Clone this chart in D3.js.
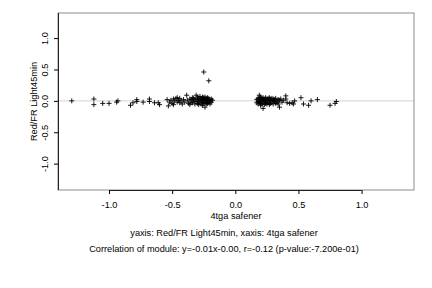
<!DOCTYPE html>
<html><head><meta charset="utf-8">
<script src="https://cdn.jsdelivr.net/npm/d3@7"></script>
<style>body{margin:0;background:#fff}svg{display:block}text{font-family:"Liberation Sans",Arial,sans-serif;fill:#000}</style>
</head><body><svg id="c" width="432" height="288"></svg>
<script>
const xTicks=[-1.0,-0.5,0.0,0.5,1.0];
const yTicks=[-1.0,-0.5,0.0,0.5,1.0];
const tickLabels=["-1.0","-0.5","0.0","0.5","1.0"];
const xTitle="4tga safener";
const yTitle="Red/FR Light45min";
const subtitle="yaxis: Red/FR Light45min, xaxis: 4tga safener";
const corrText="Correlation of module: y=-0.01x-0.00, r=-0.12 (p-value:-7.200e-01)";
const xLeft=[-1.295,-1.12,-1.12,-1.05,-1.0,-0.94,-0.93,-0.83,-0.81,-0.78,-0.78,-0.73,-0.68,-0.68,-0.64,-0.61,-0.60,-0.54,-0.53,
-0.52,-0.51,-0.50,-0.49,-0.49,-0.48,-0.47,-0.46,-0.46,-0.45,-0.44,-0.44,-0.43,-0.42,-0.41,-0.40,-0.385,-0.38,-0.37,-0.36,-0.36,
-0.35,-0.35,-0.34,-0.34,-0.33,-0.33,-0.32,-0.32,-0.31,-0.31,-0.30,-0.30,-0.30,-0.29,-0.29,-0.29,-0.28,-0.28,-0.28,-0.27,-0.27,
-0.27,-0.26,-0.26,-0.26,-0.26,-0.25,-0.25,-0.25,-0.25,-0.24,-0.24,-0.24,-0.24,-0.23,-0.23,-0.23,-0.23,-0.22,-0.22,-0.22,-0.21,
-0.21,-0.21,-0.20,-0.20,-0.20,-0.19,-0.19,-0.18,-0.25,-0.21];
const yLeft=[0.0,0.03,-0.06,-0.04,-0.04,-0.02,0.0,-0.07,-0.03,0.02,-0.01,-0.02,0.03,-0.01,-0.03,-0.03,-0.06,0.02,-0.08,
-0.02,0.01,-0.04,0.03,-0.06,0.0,0.04,-0.02,0.05,0.01,-0.03,0.04,0.0,-0.05,0.02,-0.02,0.09,0.01,-0.04,0.03,-0.06,
0.02,-0.02,0.05,-0.03,0.0,0.04,-0.05,0.02,0.09,-0.01,0.03,-0.04,0.06,0.0,-0.06,0.04,0.02,-0.03,0.07,0.0,-0.05,
0.04,0.03,-0.02,0.06,-0.07,0.0,0.05,-0.04,0.02,-0.1,0.03,-0.02,0.06,0.01,-0.05,0.04,-0.02,0.02,-0.04,0.05,0.0,
-0.03,0.04,0.02,-0.05,0.0,0.03,-0.02,0.01,0.46,0.32];
const xRight=[0.17,0.17,0.18,0.18,0.18,0.19,0.19,0.19,0.19,0.20,0.20,0.20,0.20,0.21,0.21,0.21,0.21,0.22,0.22,0.22,0.22,0.23,0.23,
0.23,0.24,0.24,0.24,0.24,0.25,0.25,0.25,0.26,0.26,0.26,0.27,0.27,0.27,0.28,0.28,0.28,0.29,0.29,0.30,0.30,0.30,0.31,0.31,0.32,
0.32,0.33,0.33,0.34,0.34,0.35,0.35,0.36,0.37,0.38,0.40,0.40,0.41,0.43,0.45,0.46,0.47,0.52,0.54,0.58,0.60,0.65,0.75,0.79,0.80];
const yRight=[0.02,-0.03,0.04,-0.01,-0.05,0.09,0.01,-0.03,0.05,0.02,-0.04,0.06,-0.07,0.0,0.04,-0.05,0.03,-0.12,0.02,-0.02,0.05,0.0,-0.06,
0.03,0.01,-0.04,0.05,-0.02,0.03,-0.05,0.0,0.04,-0.03,0.01,-0.06,0.02,0.05,0.0,-0.04,0.03,-0.02,0.04,0.01,-0.05,0.03,-0.01,0.02,-0.04,
0.04,0.0,-0.03,0.02,-0.05,0.01,-0.1,0.03,-0.02,0.01,0.08,0.03,-0.03,-0.04,-0.03,-0.05,0.0,0.05,-0.05,-0.07,0.0,0.02,-0.07,-0.04,-0.01];
const pts=xLeft.map((x,i)=>({x,y:yLeft[i]})).concat(xRight.map((x,i)=>({x,y:yRight[i]})));

const FS="9.2px";
const L=58,R=414,T=13,B=190;
const x=d3.scaleLinear().domain([-1.404,1.415]).range([L,R]);
const y=d3.scaleLinear().domain([-1.42,1.40]).range([B,T]);
const svg=d3.select("#c");
svg.append("line").attr("x1",L).attr("x2",R).attr("y1",y(0)).attr("y2",y(0)).attr("stroke","#d3d3d3").attr("stroke-width",1);
svg.append("rect").attr("x",L).attr("y",T).attr("width",R-L).attr("height",B-T).attr("fill","none").attr("stroke","#8c8c8c").attr("stroke-width",1);
const g=svg.append("g");
pts.forEach(p=>{
  const cx=x(p.x),cy=y(p.y);
  g.append("path").attr("d",`M${cx-2.5},${cy}H${cx+2.5}M${cx},${cy-2.5}V${cy+2.5}`).attr("stroke","#000").attr("stroke-width",0.9).attr("fill","none");
});
const xa=svg.append("g").attr("transform",`translate(0,${B})`).call(d3.axisBottom(x).tickValues(xTicks).tickSize(4).tickPadding(7).tickFormat((d,i)=>tickLabels[i]));
xa.select(".domain").attr("d",`M${x(-1)},0.5H${x(1)}`).attr("stroke","#222");
xa.selectAll("text").attr("font-size",FS).attr("font-family","Liberation Sans, Arial, sans-serif");
const ya=svg.append("g").attr("transform",`translate(${L},0)`).call(d3.axisLeft(y).tickValues(yTicks).tickSize(4).tickFormat((d,i)=>tickLabels[i]));
ya.select(".domain").attr("d",`M0.5,${T}V${B}`).attr("stroke","#222");
ya.selectAll("text").attr("font-size",FS).attr("font-family","Liberation Sans, Arial, sans-serif")
  .attr("x",0).attr("y",0).attr("dy",null).attr("text-anchor","middle")
  .attr("transform","translate(-10,0) rotate(-90)");
svg.append("text").attr("transform",`translate(37,${(T+B)/2}) rotate(-90)`).attr("text-anchor","middle").attr("font-size",FS).text(yTitle);
svg.append("text").attr("x",(L+R)/2).attr("y",219).attr("text-anchor","middle").attr("font-size",FS).text(xTitle);
svg.append("text").attr("x",224).attr("y",235.5).attr("text-anchor","middle").attr("font-size",FS).text(subtitle);
svg.append("text").attr("x",224).attr("y",252).attr("text-anchor","middle").attr("font-size",FS).text(corrText);
</script></body></html>
